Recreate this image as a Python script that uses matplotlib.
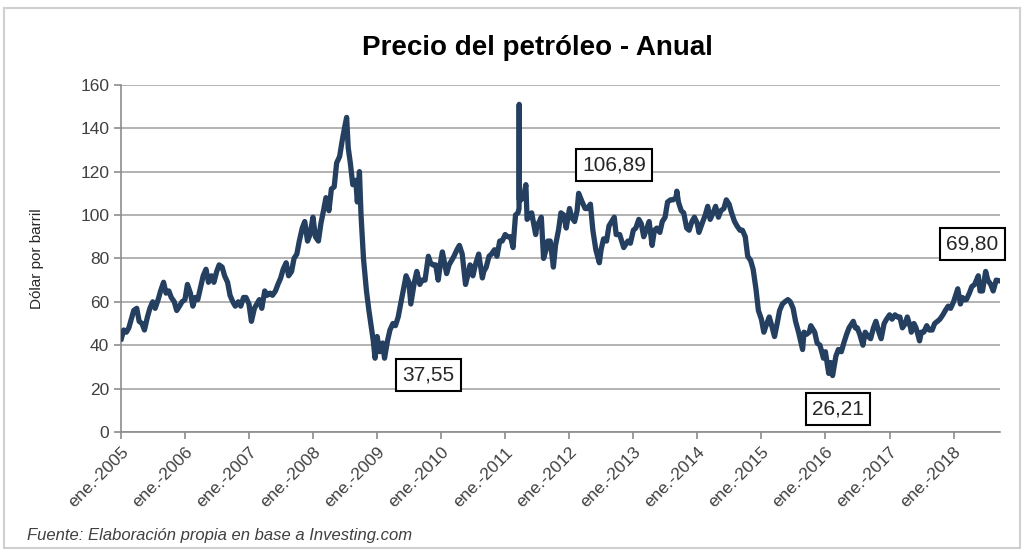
import numpy as np
import pandas as pd

import matplotlib as mpl
mpl.use('Agg')
import matplotlib.pyplot as plt
from matplotlib.patches import Rectangle

plt.rcParams['font.family'] = ['Liberation Sans', 'DejaVu Sans']

# precio del petroleo (USD por barril)
fechas = [
    '2005-01-03', '2005-01-17', '2005-02-01', '2005-02-15', '2005-03-01', '2005-03-15', '2005-04-01', '2005-04-15',
    '2005-05-01', '2005-05-15', '2005-06-01', '2005-06-15', '2005-07-01', '2005-07-15', '2005-08-01', '2005-08-15',
    '2005-09-01', '2005-09-15', '2005-10-01', '2005-10-15', '2005-11-01', '2005-11-15', '2005-12-01', '2005-12-15',
    '2006-01-01', '2006-01-15', '2006-02-01', '2006-02-15', '2006-03-01', '2006-03-15', '2006-04-01', '2006-04-15',
    '2006-05-01', '2006-05-15', '2006-06-01', '2006-06-15', '2006-07-01', '2006-07-15', '2006-08-01', '2006-08-15',
    '2006-09-01', '2006-09-15', '2006-10-01', '2006-10-15', '2006-11-01', '2006-11-15', '2006-12-01', '2006-12-15',
    '2007-01-01', '2007-01-15', '2007-02-01', '2007-02-15', '2007-03-01', '2007-03-15', '2007-04-01', '2007-04-15',
    '2007-05-01', '2007-05-15', '2007-06-01', '2007-06-15', '2007-07-01', '2007-07-15', '2007-08-01', '2007-08-15',
    '2007-09-01', '2007-09-15', '2007-10-01', '2007-10-15', '2007-11-01', '2007-11-15', '2007-12-01', '2007-12-15',
    '2008-01-01', '2008-01-15', '2008-02-01', '2008-02-15', '2008-03-01', '2008-03-15', '2008-04-01', '2008-04-15',
    '2008-05-01', '2008-05-15', '2008-06-01', '2008-06-15', '2008-07-01', '2008-07-11', '2008-07-20', '2008-08-01',
    '2008-08-15', '2008-09-01', '2008-09-10', '2008-09-22', '2008-10-01', '2008-10-15', '2008-11-01', '2008-11-15',
    '2008-12-01', '2008-12-10', '2008-12-20', '2009-01-01', '2009-01-15', '2009-02-01', '2009-02-12', '2009-03-01',
    '2009-03-15', '2009-04-01', '2009-04-15', '2009-05-01', '2009-05-15', '2009-06-01', '2009-06-15', '2009-07-01',
    '2009-07-12', '2009-08-01', '2009-08-15', '2009-09-01', '2009-09-15', '2009-10-01', '2009-10-20', '2009-11-01',
    '2009-11-15', '2009-12-01', '2009-12-15', '2010-01-01', '2010-01-08', '2010-02-01', '2010-02-15', '2010-03-01',
    '2010-03-15', '2010-04-01', '2010-04-15', '2010-05-01', '2010-05-20', '2010-06-01', '2010-06-15', '2010-07-01',
    '2010-07-15', '2010-08-03', '2010-08-24', '2010-09-01', '2010-09-15', '2010-10-01', '2010-10-15', '2010-11-01',
    '2010-11-15', '2010-12-01', '2010-12-15', '2011-01-01', '2011-01-15', '2011-02-01', '2011-02-15', '2011-03-01',
    '2011-03-15', '2011-03-21', '2011-03-22', '2011-03-23', '2011-04-01', '2011-04-15', '2011-04-29', '2011-05-06',
    '2011-05-15', '2011-06-01', '2011-06-15', '2011-06-24', '2011-07-01', '2011-07-15', '2011-07-26', '2011-08-08',
    '2011-08-22', '2011-09-01', '2011-09-15', '2011-10-03', '2011-10-15', '2011-11-01', '2011-11-15', '2011-12-01',
    '2011-12-15', '2012-01-03', '2012-01-15', '2012-02-01', '2012-02-15', '2012-02-24', '2012-03-15', '2012-04-01',
    '2012-04-15', '2012-05-01', '2012-05-15', '2012-06-01', '2012-06-21', '2012-07-01', '2012-07-15', '2012-08-01',
    '2012-08-15', '2012-09-14', '2012-09-25', '2012-10-15', '2012-11-07', '2012-11-15', '2012-12-01', '2012-12-15',
    '2013-01-01', '2013-01-15', '2013-02-01', '2013-02-15', '2013-03-01', '2013-03-15', '2013-04-01', '2013-04-18',
    '2013-05-01', '2013-05-15', '2013-06-01', '2013-06-15', '2013-07-01', '2013-07-15', '2013-08-01', '2013-08-15',
    '2013-09-01', '2013-09-06', '2013-09-15', '2013-10-01', '2013-10-15', '2013-11-01', '2013-11-15', '2013-12-01',
    '2013-12-15', '2014-01-01', '2014-01-10', '2014-02-01', '2014-02-15', '2014-03-01', '2014-03-15', '2014-04-01',
    '2014-04-15', '2014-05-01', '2014-05-15', '2014-06-01', '2014-06-15', '2014-07-01', '2014-07-15', '2014-08-01',
    '2014-08-15', '2014-09-01', '2014-09-15', '2014-10-01', '2014-10-15', '2014-11-01', '2014-11-15', '2014-12-01',
    '2014-12-15', '2015-01-01', '2015-01-15', '2015-02-01', '2015-02-15', '2015-03-01', '2015-03-17', '2015-04-01',
    '2015-04-15', '2015-05-01', '2015-05-15', '2015-06-01', '2015-06-15', '2015-07-01', '2015-07-15', '2015-08-01',
    '2015-08-24', '2015-09-01', '2015-09-15', '2015-10-01', '2015-10-10', '2015-11-01', '2015-11-15', '2015-12-01',
    '2015-12-21', '2016-01-01', '2016-01-20', '2016-02-01', '2016-02-11', '2016-03-01', '2016-03-15', '2016-04-01',
    '2016-04-15', '2016-05-01', '2016-05-15', '2016-06-08', '2016-06-20', '2016-07-01', '2016-07-15', '2016-08-02',
    '2016-08-15', '2016-09-01', '2016-09-15', '2016-10-01', '2016-10-15', '2016-11-01', '2016-11-14', '2016-12-01',
    '2016-12-15', '2017-01-01', '2017-01-15', '2017-02-01', '2017-02-15', '2017-03-01', '2017-03-15', '2017-04-01',
    '2017-04-12', '2017-05-01', '2017-05-05', '2017-05-20', '2017-06-01', '2017-06-21', '2017-07-01', '2017-07-15',
    '2017-08-01', '2017-08-15', '2017-09-01', '2017-09-15', '2017-10-01', '2017-10-15', '2017-11-01', '2017-11-15',
    '2017-12-01', '2017-12-15', '2018-01-01', '2018-01-25', '2018-02-09', '2018-02-20', '2018-03-01', '2018-03-15',
    '2018-04-01', '2018-04-15', '2018-05-01', '2018-05-22', '2018-06-01', '2018-06-15', '2018-07-03', '2018-07-15',
    '2018-08-01', '2018-08-15', '2018-09-01', '2018-09-12',
]
precios = [
    43, 47, 46, 48, 52, 56, 57, 51,
    50, 47, 53, 57, 60, 57, 61, 65,
    69, 64, 65, 62, 60, 56, 58, 60,
    61, 68, 64, 58, 62, 61, 67, 72,
    75, 69, 72, 69, 74, 77, 76, 72,
    69, 63, 60, 58, 60, 58, 62, 62,
    59, 51, 57, 59, 61, 57, 65, 63,
    64, 63, 65, 68, 71, 75, 78, 72,
    74, 80, 82, 88, 94, 97, 88, 91,
    99, 90, 88, 96, 102, 108, 102, 112,
    113, 124, 127, 134, 141, 145, 131, 124,
    114, 116, 106, 120, 100, 80, 65, 56,
    47, 42, 34, 44, 37, 41, 34, 42,
    47, 50, 49, 53, 59, 66, 72, 69,
    59, 69, 74, 68, 70, 70, 81, 78,
    77, 77, 70, 80, 83, 73, 77, 79,
    81, 84, 86, 82, 68, 72, 77, 72,
    77, 82, 71, 74, 76, 81, 82, 84,
    81, 88, 88, 91, 90, 90, 85, 100,
    101, 103, 151, 107, 107, 108, 114, 98,
    99, 101, 95, 91, 95, 97, 99, 80,
    84, 88, 88, 76, 86, 93, 101, 100,
    94, 103, 99, 97, 102, 110, 106, 103,
    103, 105, 93, 84, 78, 84, 89, 88,
    95, 99, 91, 91, 85, 86, 88, 87,
    93, 94, 98, 96, 90, 93, 97, 86,
    93, 94, 92, 97, 99, 106, 107, 107,
    108, 111, 106, 102, 101, 94, 93, 97,
    99, 96, 92, 97, 100, 104, 98, 101,
    104, 99, 102, 103, 107, 105, 101, 97,
    95, 93, 93, 90, 81, 79, 75, 66,
    56, 52, 46, 50, 53, 49, 44, 50,
    56, 59, 60, 61, 60, 57, 51, 46,
    38, 46, 45, 46, 49, 46, 41, 40,
    34, 37, 27, 32, 26, 35, 38, 37,
    41, 45, 48, 51, 48, 48, 45, 40,
    46, 44, 43, 48, 51, 46, 43, 50,
    52, 54, 52, 54, 53, 53, 48, 50,
    53, 48, 46, 50, 48, 42, 46, 46,
    49, 47, 47, 50, 51, 52, 54, 56,
    58, 57, 60, 66, 59, 62, 61, 61,
    64, 67, 68, 72, 65, 65, 74, 70,
    68, 65, 70, 69.8,
]

# etiquetas destacadas: texto, fecha y nivel donde va la caja
etiquetas = ['37,55', '106,89', '69,80', '26,21']
etiq_fechas = ['2009-10-20', '2012-09-13', '2018-04-18', '2016-03-14']
etiq_niveles = [26.3, 123.0, 86.6, 10.6]

anios = list(range(2005, 2019))
tick_labels = ['ene.-' + str(a) for a in anios]


def main():
    serie = pd.Series(precios, index=pd.to_datetime(fechas))

    fig = plt.figure(figsize=(10.25, 5.51), dpi=100)
    fig.patch.set_facecolor('white')
    fig.patches.append(Rectangle((0.004, 0.006), 0.991, 0.98, transform=fig.transFigure,
                                 fill=False, edgecolor='#d0d0d0', linewidth=1.5))

    ax = fig.add_axes([0.118, 0.216, 0.858, 0.630])
    ax.plot(serie.index, serie.values, color='#243f60', linewidth=3.8,
            solid_joinstyle='round', zorder=3)

    ax.set_ylim(0, 160)
    ax.set_yticks(np.arange(0, 161, 20))
    ax.set_xlim(pd.Timestamp('2005-01-01'), pd.Timestamp('2018-09-25'))
    ticks = [pd.Timestamp(str(a) + '-01-01') for a in anios]
    ax.set_xticks(ticks)
    ax.set_xticklabels(tick_labels, rotation=45, ha='right', rotation_mode='anchor')

    ax.grid(axis='y', color='#a6a6a6', linewidth=1.2, zorder=0)
    for s in ['top', 'right']:
        ax.spines[s].set_visible(False)
    for s in ['left', 'bottom']:
        ax.spines[s].set_color('#8c8c8c')
        ax.spines[s].set_linewidth(1.2)
    ax.tick_params(axis='both', colors='#8c8c8c', length=5, width=1.2, labelcolor='#404040',
                   labelsize=12.5)
    ax.tick_params(axis='x', pad=4)

    ax.set_ylabel('Dólar por barril', fontsize=11, color='#262626', labelpad=26)

    for txt, f, n in zip(etiquetas, etiq_fechas, etiq_niveles):
        ax.text(pd.Timestamp(f), n, txt, ha='center', va='center', fontsize=15,
                color='#262626', zorder=5,
                bbox=dict(boxstyle='square,pad=0.3', facecolor='white',
                          edgecolor='black', linewidth=1.5))

    fig.text(0.524, 0.912, 'Precio del petróleo - Anual', ha='center', va='center',
             fontsize=20, fontweight='bold', color='black')
    fig.text(0.026, 0.028, 'Fuente: Elaboración propia en base a Investing.com',
             ha='left', va='center', fontsize=12, style='italic', color='#404040')

    plt.savefig('out.png', dpi=100)


if __name__ == '__main__':
    main()
